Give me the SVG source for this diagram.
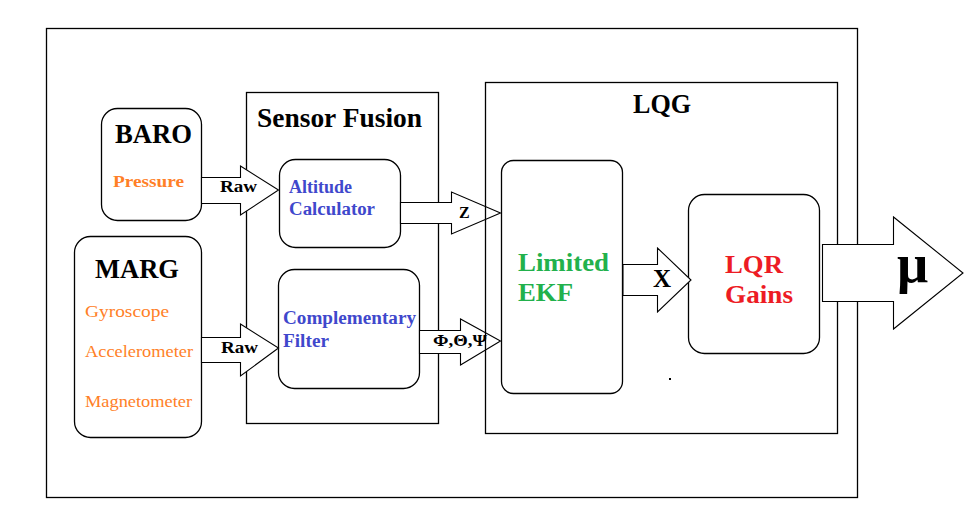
<svg xmlns="http://www.w3.org/2000/svg" width="968" height="512" viewBox="0 0 968 512">
<style>
.box{fill:none;stroke:#000;stroke-width:1.3}
.node{fill:#fff;stroke:#000;stroke-width:1.3}
.arr{fill:#fff;stroke:#000;stroke-width:1.1;stroke-linejoin:miter}
text{font-family:"Liberation Serif","Times New Roman",serif}
.t{font-weight:bold;fill:#000}
.big{font-size:27px}
.or{fill:#FF7F27;font-size:17px}
.bl{fill:#3F48CC;font-weight:bold;font-size:18px}
.gr{fill:#22B14C;font-weight:bold;font-size:26px}
.rd{fill:#ED1C24;font-weight:bold;font-size:26px}
.lab{font-weight:bold;font-size:16px}
</style>
<rect width="968" height="512" fill="#fff"/>
<rect id="outer" class="box" x="46.5" y="28.5" width="811" height="469"/>
<g id="sensor-fusion">
<rect class="box" x="246.5" y="92.5" width="192" height="331"/>
<text class="t big" x="257" y="127" textLength="165" lengthAdjust="spacingAndGlyphs">Sensor Fusion</text>
</g>
<g id="baro">
<rect class="node" x="101.5" y="108.5" width="100" height="112" rx="16"/>
<text class="t big" x="115" y="143" textLength="77" lengthAdjust="spacingAndGlyphs">BARO</text>
<text class="or" x="113" y="187" font-weight="bold" textLength="71" lengthAdjust="spacingAndGlyphs">Pressure</text>
</g>
<g id="marg">
<rect class="node" x="74.5" y="236.5" width="127" height="201" rx="16"/>
<text class="t big" x="95" y="278" textLength="84" lengthAdjust="spacingAndGlyphs">MARG</text>
<text class="or" x="85" y="317" textLength="84" lengthAdjust="spacingAndGlyphs">Gyroscope</text>
<text class="or" x="85" y="357" textLength="108" lengthAdjust="spacingAndGlyphs">Accelerometer</text>
<text class="or" x="85" y="407" textLength="107" lengthAdjust="spacingAndGlyphs">Magnetometer</text>
</g>
<g id="altitude-calculator">
<rect class="node" x="279.5" y="159.5" width="121" height="88" rx="16"/>
<text class="bl" x="289" y="193" textLength="63" lengthAdjust="spacingAndGlyphs">Altitude</text>
<text class="bl" x="289" y="215" textLength="86" lengthAdjust="spacingAndGlyphs">Calculator</text>
</g>
<g id="complementary-filter">
<rect class="node" x="278.5" y="269.5" width="141" height="119" rx="16"/>
<text class="bl" x="283" y="324" textLength="133" lengthAdjust="spacingAndGlyphs">Complementary</text>
<text class="bl" x="283" y="347" textLength="46" lengthAdjust="spacingAndGlyphs">Filter</text>
</g>
<g id="connectors">
<polygon class="arr" points="201.5,177.5 240.5,177.5 240.5,166 278.5,190 240.5,215 240.5,203.5 201.5,203.5"/>
<text class="lab" x="220" y="192" textLength="37" lengthAdjust="spacingAndGlyphs">Raw</text>
<polygon class="arr" points="201.5,337.5 240.5,337.5 240.5,324 278.5,348 240.5,376 240.5,362.5 201.5,362.5"/>
<text class="lab" x="221" y="353" textLength="37" lengthAdjust="spacingAndGlyphs">Raw</text>
<polygon class="arr" points="400.5,202.5 451.5,202.5 451.5,192 500.5,213 451.5,234 451.5,223.5 400.5,223.5"/>
<text class="lab" x="459" y="218">Z</text>
<polygon class="arr" points="419.5,330.5 460.5,330.5 460.5,319 500.5,341 460.5,365 460.5,353.5 419.5,353.5"/>
<text class="lab" x="433" y="346" font-size="15" textLength="54" lengthAdjust="spacingAndGlyphs">Φ,Θ,Ψ</text>
</g>
<g id="lqg">
<rect class="box" x="485.5" y="82.5" width="352" height="351"/>
<text class="t big" x="633" y="113" textLength="58" lengthAdjust="spacingAndGlyphs">LQG</text>
</g>
<g id="limited-ekf">
<rect class="node" x="501.5" y="160.5" width="121" height="233" rx="12"/>
<text class="gr" x="518" y="271" textLength="91" lengthAdjust="spacingAndGlyphs">Limited</text>
<text class="gr" x="518" y="301" textLength="55" lengthAdjust="spacingAndGlyphs">EKF</text>
</g>
<g id="lqr-gains">
<rect class="node" x="688.5" y="194.5" width="131" height="159" rx="16"/>
<text class="rd" x="725" y="273" textLength="58" lengthAdjust="spacingAndGlyphs">LQR</text>
<text class="rd" x="725" y="303" textLength="68" lengthAdjust="spacingAndGlyphs">Gains</text>
</g>
<g id="connectors-2">
<polygon class="arr" points="623,264.5 657.5,264.5 657.5,248 691,280 657.5,312 657.5,295.5 623,295.5"/>
<text class="t" x="653" y="287" font-size="25px">X</text>
<polygon class="arr" points="822.5,244.5 893.5,244.5 893.5,217 963,273 893.5,329 893.5,301.5 822.5,301.5"/>
<text class="t" x="897" y="282" font-size="55px">μ</text>
</g>
<rect x="669" y="378" width="2" height="2" fill="#000"/>
</svg>
